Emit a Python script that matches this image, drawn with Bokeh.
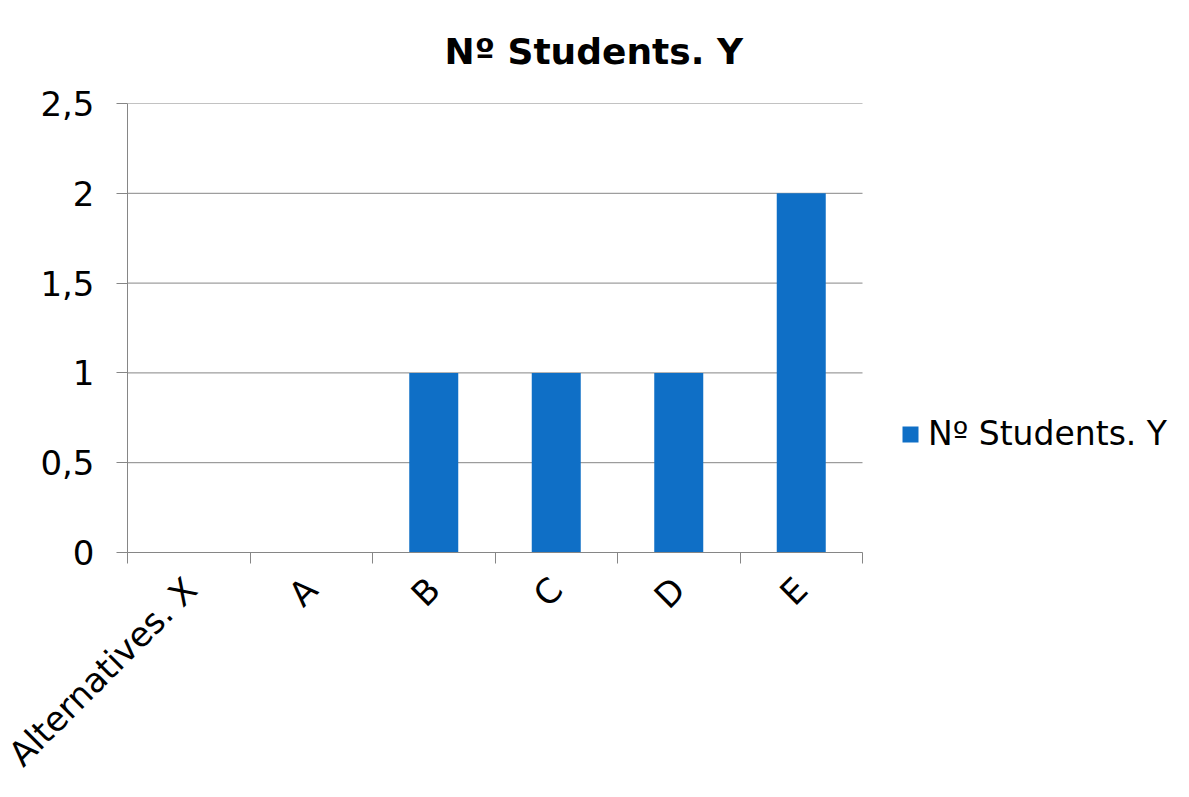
from bokeh.plotting import figure
from bokeh.models import (ColumnDataSource, Range1d, FixedTicker, Legend, LegendItem)
from bokeh.embed import file_html
from bokeh.resources import INLINE

categories = ["Alternatives. X", "A", "B", "C", "D", "E"]
students = [0, 0, 1, 1, 1, 2]
y_ticks = [0, 0.5, 1, 1.5, 2, 2.5]
y_tick_labels = ["0", "0,5", "1", "1,5", "2", "2,5"]
series_name = "Nº Students. Y"
title_text = "Nº Students. Y"

FONT = "DejaVu Sans"
BLUE = "#0F6FC6"
GRAY = "#868686"

n = len(categories)
xs = list(range(n))
x_lo, x_hi = -0.5, n - 0.5
# plot area spans 735 px for the categories; frame extends right to host the legend
FRAME_W = 1189 - 127
x_end = x_lo + n * FRAME_W / 735.0

src = ColumnDataSource(dict(x=xs, top=students, cat=categories))
grid_src = ColumnDataSource(dict(x0=[x_lo] * len(y_ticks), x1=[x_hi] * len(y_ticks),
                                 y=y_ticks))

p = figure(width=1189, height=797, output_backend="svg", toolbar_location=None,
           x_range=Range1d(x_lo, x_end), y_range=Range1d(0, 2.5),
           min_border_left=127, min_border_right=0, min_border_top=103,
           min_border_bottom=245)
p.outline_line_color = None
p.background_fill_color = "white"
p.border_fill_color = "white"

# horizontal gridlines limited to the category area
p.segment(x0="x0", x1="x1", y0="y", y1="y", source=grid_src, line_color=GRAY, line_width=1)

r = p.vbar(x="x", top="top", width=0.4, source=src, fill_color=BLUE, line_color=None)

p.title.text = title_text
p.title.text_font = FONT
p.title.text_font_size = "36px"
p.title.text_font_style = "bold"
p.title.text_color = "black"
p.title.align = "left"
p.title.vertical_align = "top"
p.title.offset = 317
p.title.standoff = 59

# x axis: labels at category centres, ticks at boundaries (minor ticks)
xa = p.xaxis[0]
xa.bounds = (x_lo, x_hi)
xa.ticker = FixedTicker(ticks=xs, minor_ticks=[i - 0.5 for i in range(n + 1)])
xa.major_label_overrides = {i: c for i, c in enumerate(categories)}
xa.major_label_orientation = 0.785398
xa.major_tick_in = 0
xa.major_tick_out = 0
xa.minor_tick_in = 0
xa.minor_tick_out = 11
xa.minor_tick_line_color = GRAY
xa.axis_line_color = GRAY
xa.major_label_text_font = FONT
xa.major_label_text_font_size = "34px"
xa.major_label_text_color = "black"
xa.major_label_standoff = 20

ya = p.yaxis[0]
ya.ticker = FixedTicker(ticks=y_ticks)
ya.major_label_overrides = {t: l for t, l in zip(y_ticks, y_tick_labels)}
ya.major_tick_in = 0
ya.major_tick_out = 11
ya.major_tick_line_color = GRAY
ya.minor_tick_line_color = None
ya.axis_line_color = GRAY
ya.major_label_text_font = FONT
ya.major_label_text_font_size = "34px"
ya.major_label_text_color = "black"
ya.major_label_standoff = 22

p.xgrid.grid_line_color = None
p.ygrid.grid_line_color = None

legend = Legend(items=[LegendItem(label=series_name, renderers=[r])],
                location=(773, 99), border_line_color=None, background_fill_alpha=0,
                padding=0, margin=0, glyph_width=20, glyph_height=20,
                label_text_font=FONT, label_text_font_size="33px",
                label_text_color="black", label_standoff=8)
p.add_layout(legend, "center")

open("out.html", "w").write(file_html(p, INLINE))
